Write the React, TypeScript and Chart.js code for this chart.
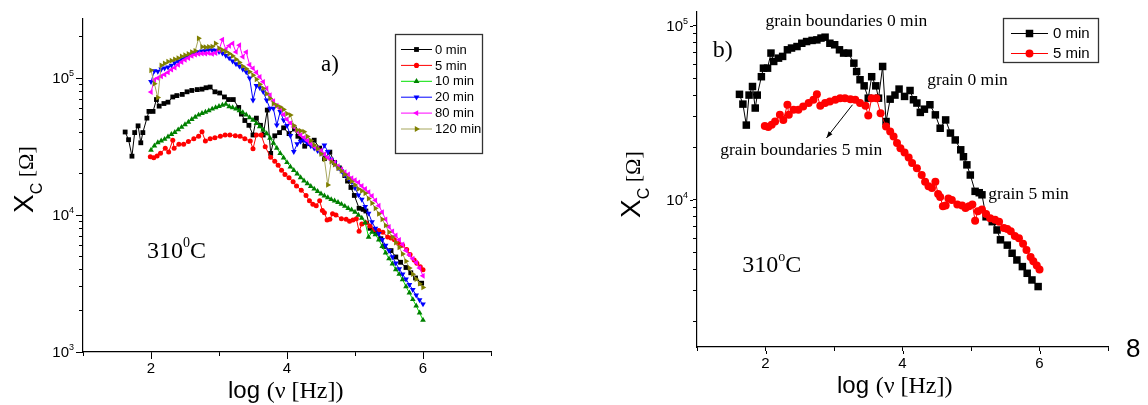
import React, { useEffect, useRef } from 'react';
import { Chart, registerables } from 'chart.js';
Chart.register(...registerables);

const SANS = "'Liberation Sans', Arial, sans-serif";
const SERIF = "'Liberation Serif', 'Times New Roman', serif";

// ---------- data (x = log(frequency / Hz), y = Xc in ohm) ----------
const logF_0min = [1.62,1.67,1.72,1.76,1.81,1.85,1.88,1.94,1.97,2.03,2.08,2.12,2.19,2.25,2.32,2.38,2.46,2.53,2.60,2.68,2.75,2.81,2.87,2.94,3.01,3.08,3.14,3.21,3.29,3.33,3.38,3.44,3.50,3.55,3.61,3.65,3.71,3.76,3.82,3.89,3.95,4.03,4.11,4.16,4.21,4.26,4.32,4.40,4.48,4.55,4.63,4.70,4.77,4.85,4.89,4.94,4.99,5.06,5.12,5.16,5.22,5.31,5.38,5.43,5.53,5.60,5.67,5.75,5.82,5.89,5.98];
const Xc_0min = [40400,35500,26900,40000,44800,33700,40000,51000,57100,57100,69700,62400,65200,66700,72800,74500,76000,79400,81200,82400,83000,85000,86000,79400,77800,72800,69700,69700,61000,54600,49000,45200,38400,51000,45200,38400,58400,28200,37900,40000,43300,39300,42500,37600,36000,31800,33200,35200,30800,25800,28800,24200,22100,19400,17700,15900,13900,11200,11000,10700,8000,7500,6720,5900,5500,4940,4520,4140,3790,3470,3180];

const logF_5min = [1.99,2.04,2.09,2.14,2.21,2.26,2.32,2.34,2.41,2.48,2.55,2.63,2.70,2.75,2.80,2.87,2.94,3.02,3.09,3.16,3.24,3.31,3.38,3.46,3.50,3.55,3.62,3.68,3.76,3.82,3.87,3.92,3.97,4.03,4.09,4.14,4.21,4.28,4.33,4.38,4.43,4.48,4.52,4.55,4.59,4.63,4.67,4.72,4.80,4.87,4.92,4.97,5.02,5.06,5.10,5.16,5.22,5.28,5.35,5.41,5.48,5.53,5.58,5.64,5.70,5.76,5.81,5.87,5.91,5.96,6.00];
const Xc_5min = [26600,26200,27000,28200,30800,28800,35200,30800,32900,32900,34400,36000,37600,40500,34700,36000,36700,37600,38400,38400,37900,37600,36000,34700,30500,38400,38400,31500,26400,24700,23100,21200,19800,18700,17500,16300,15200,13900,12700,12000,11700,12700,10800,10400,9200,9300,10200,10000,9400,9300,9000,9200,9400,7600,8600,8800,8300,7850,7700,7500,6900,6800,6600,6200,6030,5600,5160,4700,4450,4200,3980];

const logF_grid = [
  2.00,2.05,2.10,2.15,2.20,2.25,2.30,2.35,2.40,2.45,
  2.50,2.55,2.60,2.65,2.70,2.75,2.80,2.85,2.90,2.95,
  3.00,3.05,3.10,3.15,3.20,3.25,3.30,3.35,3.40,3.45,
  3.50,3.55,3.60,3.65,3.70,3.75,3.80,3.85,3.90,3.95,
  4.00,4.05,4.10,4.15,4.20,4.25,4.30,4.35,4.40,4.45,
  4.50,4.55,4.60,4.65,4.70,4.75,4.80,4.85,4.90,4.95,
  5.00,5.05,5.10,5.15,5.20,5.25,5.30,5.35,5.40,5.45,
  5.50,5.55,5.60,5.65,5.70,5.75,5.80,5.85,5.90,5.95,
  6.00];
const Xc_10min = [
  29800,32000,33800,34800,35800,37200,38800,40200,42000,43800,
  45800,47800,50000,52000,53800,55200,56500,57800,59500,61000,
  62200,63500,64500,62000,61000,59500,58000,56000,54000,51500,
  49300,46800,44200,41800,39400,36500,33500,30800,28200,26200,
  24200,22500,21200,20000,18800,17800,17000,16200,15500,14900,
  14300,13800,13400,13000,12700,12400,12000,11600,11200,10900,
  10500,10000,9500,8800,6900,7500,7200,6600,5900,5300,
  4800,4400,4000,3700,3380,3000,2700,2420,2170,1930,
  1710];
const Xc_20min = [
  94000,113000,112000,116000,118000,120000,124000,129000,133000,137000,
  141000,145000,149000,152000,155000,157000,158000,160000,160000,159000,
  156000,152000,146000,140000,133000,127000,122000,116000,111000,100000,
  69000,88000,85000,79500,69000,60000,60000,45400,56800,49300,
  45000,38000,29000,33000,34500,35200,33500,32000,30800,29500,
  28200,32400,29000,25500,24000,22200,21000,19600,18500,17500,
  15800,14000,13000,11500,10300,8900,8000,7300,6600,6000,
  5500,4950,4450,4050,3700,3400,3100,2850,2600,2400,
  2240];
const Xc_80min = [
  79000,97000,100000,103000,106000,110000,115000,119000,125000,131000,
  136000,140000,145000,148000,150000,151000,151000,152000,150000,152000,
  160000,191000,162000,172000,179000,155000,174000,143000,155000,125000,
  118000,110000,102000,94000,84000,75000,68000,63000,60000,54000,
  50000,47000,44000,41000,38400,36800,35000,33200,31600,30500,
  29500,27800,26200,25200,24200,22800,21600,20600,19800,18600,
  18000,17300,16300,15500,14700,13800,12800,11700,10500,9300,
  8200,7600,7100,6600,6100,5500,5100,4800,4500,4100,
  3600];
const Xc_120min = [
  114000,91000,72000,124000,128000,132000,134000,137000,140000,144000,
  147000,150000,155000,158000,195000,169000,168000,169000,170000,179000,
  165000,160000,156000,151000,145000,137000,130000,122000,117000,111000,
  105000,98000,90000,84000,77000,71000,65000,63000,61500,59000,
  55000,53700,45000,41700,41200,40600,37500,35000,32500,30500,
  28000,25500,16600,24500,23300,22000,21000,19800,18600,17600,
  16600,15500,15000,14400,13200,12200,11200,10200,9300,8400,
  7500,6900,6300,5800,5200,4600,4100,3700,3400,3150,
  2960];

// ---------- axes ----------
const xTicks = [1, 2, 3, 4, 5, 6, 7];
const xTickLabels = ['', '2', '', '4', '', '6', ''];
const xMajor = [2, 4, 6];
const yTicksA = [1e3,2e3,3e3,4e3,5e3,6e3,7e3,8e3,9e3,1e4,2e4,3e4,4e4,5e4,6e4,7e4,8e4,9e4,1e5,2e5];
const yTicksB = [2e3,3e3,4e3,5e3,6e3,7e3,8e3,9e3,1e4,2e4,3e4,4e4,5e4,6e4,7e4,8e4,9e4,1e5];
const yExpA = [3, 4, 5];
const yExpB = [4, 5];
const seriesNamesA = ['0 min', '5 min', '10 min', '20 min', '80 min', '120 min'];
const seriesNamesB = ['0 min', '5 min'];

// ---------- annotations (data coordinates) ----------
const annotA = [
  { text: 'a)', x: 4.5, y: 1.12e5 },
];
const annotB = [
  { text: 'b)', x: 1.23, y: 6.6e4 },
  { text: 'grain boundaries 0 min', x: 2.0, y: 1.0e5 },
  { text: 'grain 0 min', x: 4.36, y: 4.6e4 },
  { text: 'grain boundaries 5 min', x: 1.34, y: 1.82e4 },
  { text: 'grain 5 min', x: 5.25, y: 1.01e4 },
];
const tempA = { x: 1.94, y: 4.85e3, sup: '0' };
const tempB = { x: 1.66, y: 3.86e3, sup: 'o' };
const arrowB = { x0: 3.27, y0: 3.52e4, x1: 2.89, y1: 2.27e4 };

const pts = (xs: number[], ys: number[]) => xs.map((x, i) => ({ x, y: ys[i] }));

type Marker = { style: string; rot: number; r: number; color: string; line: string };

function drawMarker(ctx: CanvasRenderingContext2D, m: Marker, x: number, y: number, r: number) {
  ctx.fillStyle = m.color;
  ctx.beginPath();
  if (m.style === 'rect') {
    const s = r * Math.SQRT1_2;
    ctx.rect(x - s, y - s, 2 * s, 2 * s);
  } else if (m.style === 'circle') {
    ctx.arc(x, y, r, 0, Math.PI * 2);
  } else {
    let rad = (m.rot * Math.PI) / 180;
    ctx.moveTo(x + Math.sin(rad) * r, y - Math.cos(rad) * r);
    rad += (2 * Math.PI) / 3;
    ctx.lineTo(x + Math.sin(rad) * r, y - Math.cos(rad) * r);
    rad += (2 * Math.PI) / 3;
    ctx.lineTo(x + Math.sin(rad) * r, y - Math.cos(rad) * r);
    ctx.closePath();
  }
  ctx.fill();
}

type Part = { t: string; f: string; dy?: number };
function drawRich(ctx: CanvasRenderingContext2D, x: number, y: number, parts: Part[]) {
  ctx.textAlign = 'left';
  ctx.textBaseline = 'alphabetic';
  let cx = x;
  for (const p of parts) {
    ctx.font = p.f;
    ctx.fillText(p.t, cx, y + (p.dy || 0));
    cx += ctx.measureText(p.t).width;
  }
  return cx - x;
}

function dataset(label: string, xs: number[], ys: number[], m: Marker, order: number) {
  return {
    label,
    data: pts(xs, ys),
    showLine: true,
    borderColor: m.line,
    borderWidth: 1,
    tension: 0,
    pointStyle: m.style,
    pointRotation: m.rot,
    pointRadius: m.r,
    pointBackgroundColor: m.color,
    pointBorderColor: m.color,
    pointBorderWidth: 0,
    order,
  };
}

function makeOptions(cfg: any) {
  return {
    responsive: false,
    animation: false,
    events: [],
    layout: { padding: { left: 0, top: cfg.top, right: cfg.right, bottom: 0 } },
    plugins: { legend: { display: false }, tooltip: { enabled: false } },
    scales: {
      x: {
        type: 'linear',
        position: 'bottom',
        min: 1,
        max: 7,
        afterBuildTicks: (s: any) => { s.ticks = xTicks.map((v) => ({ value: v })); },
        afterFit: (s: any) => { s.height = cfg.xH; },
        ticks: {
          autoSkip: false,
          maxRotation: 0,
          padding: 4,
          color: '#000',
          font: { family: SANS, size: 15 },
          callback: (v: number) => { const i = xTicks.indexOf(v); return i >= 0 ? xTickLabels[i] : ''; },
        },
        grid: { drawOnChartArea: false, drawTicks: true, tickLength: 4, tickColor: '#000', tickWidth: 1 },
        border: { display: true, color: '#000', width: 1.2 },
      },
      y: {
        type: 'logarithmic',
        position: 'left',
        min: cfg.ymin,
        max: cfg.ymax,
        afterBuildTicks: (s: any) => { s.ticks = cfg.yTicks.map((v: number) => ({ value: v })); },
        afterFit: (s: any) => { s.width = cfg.yW; },
        ticks: { display: false },
        grid: { drawOnChartArea: false, drawTicks: true, tickLength: 4, tickColor: '#000', tickWidth: 1 },
        border: { display: true, color: '#000', width: 1.2 },
      },
    },
  };
}

function axesDecor(chart: any, ctx: CanvasRenderingContext2D, yExp: number[]) {
  const xs = chart.scales.x;
  const ys = chart.scales.y;
  const ca = chart.chartArea;
  ctx.save();
  ctx.strokeStyle = '#000';
  ctx.lineWidth = 1;
  ctx.fillStyle = '#000';
  for (const e of yExp) {
    const py = Math.round(ys.getPixelForValue(Math.pow(10, e))) + 0.5;
    ctx.beginPath(); ctx.moveTo(ca.left - 4, py); ctx.lineTo(ca.left - 7, py); ctx.stroke();
  }
  for (const v of xMajor) {
    const px = Math.round(xs.getPixelForValue(v)) + 0.5;
    ctx.beginPath(); ctx.moveTo(px, ca.bottom + 4); ctx.lineTo(px, ca.bottom + 7); ctx.stroke();
  }
  for (const e of yExp) {
    const py = ys.getPixelForValue(Math.pow(10, e));
    ctx.font = `15px ${SANS}`;
    const wb = ctx.measureText('10').width;
    ctx.font = `9px ${SANS}`;
    const ws = ctx.measureText(String(e)).width;
    const x0 = ca.left - 9 - ws - wb;
    drawRich(ctx, x0, py + 5, [
      { t: '10', f: `15px ${SANS}` },
      { t: String(e), f: `9px ${SANS}`, dy: -7 },
    ]);
  }
  ctx.restore();
}

function drawLegend(ctx: CanvasRenderingContext2D, box: any, names: string[], markers: Marker[]) {
  ctx.save();
  ctx.fillStyle = '#fff';
  ctx.fillRect(box.x, box.y, box.w, box.h);
  ctx.strokeStyle = '#333';
  ctx.lineWidth = 1.3;
  ctx.strokeRect(box.x + 0.5, box.y + 0.5, box.w, box.h);
  names.forEach((n, i) => {
    const y = box.row0 + i * box.dy;
    const m = markers[i];
    ctx.strokeStyle = m.line;
    ctx.lineWidth = 1;
    ctx.beginPath();
    ctx.moveTo(box.x + box.l0, y + 0.5);
    ctx.lineTo(box.x + box.l1, y + 0.5);
    ctx.stroke();
    drawMarker(ctx, m, box.x + (box.l0 + box.l1) / 2, y + 0.5, box.mr * (m.style === 'circle' ? 0.75 : 1.0));
    ctx.fillStyle = '#000';
    ctx.font = `${box.fs}px ${SANS}`;
    ctx.textAlign = 'left';
    ctx.textBaseline = 'alphabetic';
    ctx.fillText(n, box.x + box.tx, y + box.fs * 0.36);
  });
  ctx.restore();
}

const markersA: Marker[] = [
  { style: 'rect', rot: 0, r: 3.4, color: '#000000', line: '#000000' },
  { style: 'circle', rot: 0, r: 2.5, color: '#ff0000', line: '#ff0000' },
  { style: 'triangle', rot: 0, r: 3.3, color: '#008000', line: '#00e000' },
  { style: 'triangle', rot: 180, r: 3.3, color: '#0000ff', line: '#0000ff' },
  { style: 'triangle', rot: 270, r: 3.3, color: '#ff00ff', line: '#ff00ff' },
  { style: 'triangle', rot: 90, r: 3.3, color: '#808000', line: '#a6a65c' },
];
const markersB: Marker[] = [
  { style: 'rect', rot: 0, r: 5.3, color: '#000000', line: '#000000' },
  { style: 'circle', rot: 0, r: 4.0, color: '#ff0000', line: '#ff0000' },
];

export default function App() {
  const refA = useRef<HTMLCanvasElement>(null);
  const refB = useRef<HTMLCanvasElement>(null);

  useEffect(() => {
    const plugA = {
      id: 'decorA',
      afterDraw(chart: any) {
        const ctx = chart.ctx as CanvasRenderingContext2D;
        const xs = chart.scales.x, ys = chart.scales.y;
        axesDecor(chart, ctx, yExpA);
        ctx.save();
        ctx.fillStyle = '#000';
        drawRich(ctx, 228, 398, [
          { t: 'log ', f: `24px ${SANS}` },
          { t: '(\u03bd [Hz])', f: `24px ${SERIF}` },
        ]);
        ctx.save();
        ctx.translate(33, 213);
        ctx.rotate(-Math.PI / 2);
        drawRich(ctx, 0, 0, [
          { t: 'X', f: `28px ${SANS}` },
          { t: 'C', f: `16px ${SANS}`, dy: 9 },
          { t: ' [\u03a9]', f: `22px ${SERIF}` },
        ]);
        ctx.restore();
        for (const a of annotA) {
          drawRich(ctx, xs.getPixelForValue(a.x), ys.getPixelForValue(a.y), [{ t: a.text, f: `23px ${SERIF}` }]);
        }
        drawRich(ctx, xs.getPixelForValue(tempA.x), ys.getPixelForValue(tempA.y), [
          { t: '310', f: `24px ${SERIF}` },
          { t: tempA.sup, f: `14px ${SERIF}`, dy: -11 },
          { t: 'C', f: `24px ${SERIF}` },
        ]);
        ctx.restore();
        drawLegend(ctx, { x: 395, y: 34, w: 87, h: 119, row0: 49, dy: 15.9, l0: 6, l1: 37, tx: 40, fs: 13, mr: 3.4 }, seriesNamesA, markersA);
      },
    };

    const plugB = {
      id: 'decorB',
      afterDraw(chart: any) {
        const ctx = chart.ctx as CanvasRenderingContext2D;
        const xs = chart.scales.x, ys = chart.scales.y;
        axesDecor(chart, ctx, yExpB);
        ctx.save();
        ctx.fillStyle = '#000';
        drawRich(ctx, 257, 393, [
          { t: 'log ', f: `24px ${SANS}` },
          { t: '(\u03bd [Hz])', f: `24px ${SERIF}` },
        ]);
        ctx.save();
        ctx.translate(60, 218);
        ctx.rotate(-Math.PI / 2);
        drawRich(ctx, 0, 0, [
          { t: 'X', f: `28px ${SANS}` },
          { t: 'C', f: `16px ${SANS}`, dy: 9 },
          { t: ' [\u03a9]', f: `22px ${SERIF}` },
        ]);
        ctx.restore();
        annotB.forEach((a, i) => {
          const f = i === 0 ? `24px ${SERIF}` : `17.5px ${SERIF}`;
          drawRich(ctx, xs.getPixelForValue(a.x), ys.getPixelForValue(a.y), [{ t: a.text, f }]);
        });
        drawRich(ctx, xs.getPixelForValue(tempB.x), ys.getPixelForValue(tempB.y), [
          { t: '310', f: `24px ${SERIF}` },
          { t: tempB.sup, f: `14px ${SERIF}`, dy: -11 },
          { t: 'C', f: `24px ${SERIF}` },
        ]);
        const x0 = xs.getPixelForValue(arrowB.x0), y0 = ys.getPixelForValue(arrowB.y0);
        const x1 = xs.getPixelForValue(arrowB.x1), y1 = ys.getPixelForValue(arrowB.y1);
        ctx.strokeStyle = '#000';
        ctx.lineWidth = 1;
        ctx.beginPath(); ctx.moveTo(x0, y0); ctx.lineTo(x1, y1); ctx.stroke();
        const ang = Math.atan2(y1 - y0, x1 - x0);
        ctx.beginPath();
        ctx.moveTo(x1, y1);
        ctx.lineTo(x1 - 7 * Math.cos(ang - 0.35), y1 - 7 * Math.sin(ang - 0.35));
        ctx.lineTo(x1 - 7 * Math.cos(ang + 0.35), y1 - 7 * Math.sin(ang + 0.35));
        ctx.closePath();
        ctx.fill();
        drawRich(ctx, 546, 357, [{ t: '8', f: `26px ${SANS}` }]);
        ctx.restore();
        drawLegend(ctx, { x: 423, y: 18, w: 95, h: 44, row0: 33, dy: 20, l0: 8, l1: 45, tx: 50, fs: 15, mr: 5.3 }, seriesNamesB, markersB);
      },
    };

    const chartA = new Chart(refA.current as HTMLCanvasElement, {
      type: 'line',
      data: {
        datasets: [
          dataset(seriesNamesA[0], logF_0min, Xc_0min, markersA[0], 6),
          dataset(seriesNamesA[1], logF_5min, Xc_5min, markersA[1], 5),
          dataset(seriesNamesA[2], logF_grid, Xc_10min, markersA[2], 4),
          dataset(seriesNamesA[3], logF_grid, Xc_20min, markersA[3], 3),
          dataset(seriesNamesA[4], logF_grid, Xc_80min, markersA[4], 2),
          dataset(seriesNamesA[5], logF_grid, Xc_120min, markersA[5], 1),
        ] as any,
      },
      options: makeOptions({ top: 19, right: 69, xH: 53, yW: 83, ymin: 1000, ymax: 2.7e5, yTicks: yTicksA }) as any,
      plugins: [plugA],
    });

    const chartB = new Chart(refB.current as HTMLCanvasElement, {
      type: 'line',
      data: {
        datasets: [
          dataset(seriesNamesB[0], logF_0min, Xc_0min, markersB[0], 2),
          dataset(seriesNamesB[1], logF_5min, Xc_5min, markersB[1], 1),
        ] as any,
      },
      options: makeOptions({ top: 12, right: 40, xH: 58, yW: 117, ymin: 1430, ymax: 1.2e5, yTicks: yTicksB }) as any,
      plugins: [plugB],
    });

    return () => { chartA.destroy(); chartB.destroy(); };
  }, []);

  return (
    <div style={{ position: 'absolute', left: 0, top: 0, width: 1148, height: 405, background: '#fff', overflow: 'hidden' }}>
      <canvas ref={refA} width={560} height={405} style={{ position: 'absolute', left: 0, top: 0, width: 560, height: 405 }} />
      <canvas ref={refB} width={568} height={405} style={{ position: 'absolute', left: 580, top: 0, width: 568, height: 405 }} />
    </div>
  );
}
